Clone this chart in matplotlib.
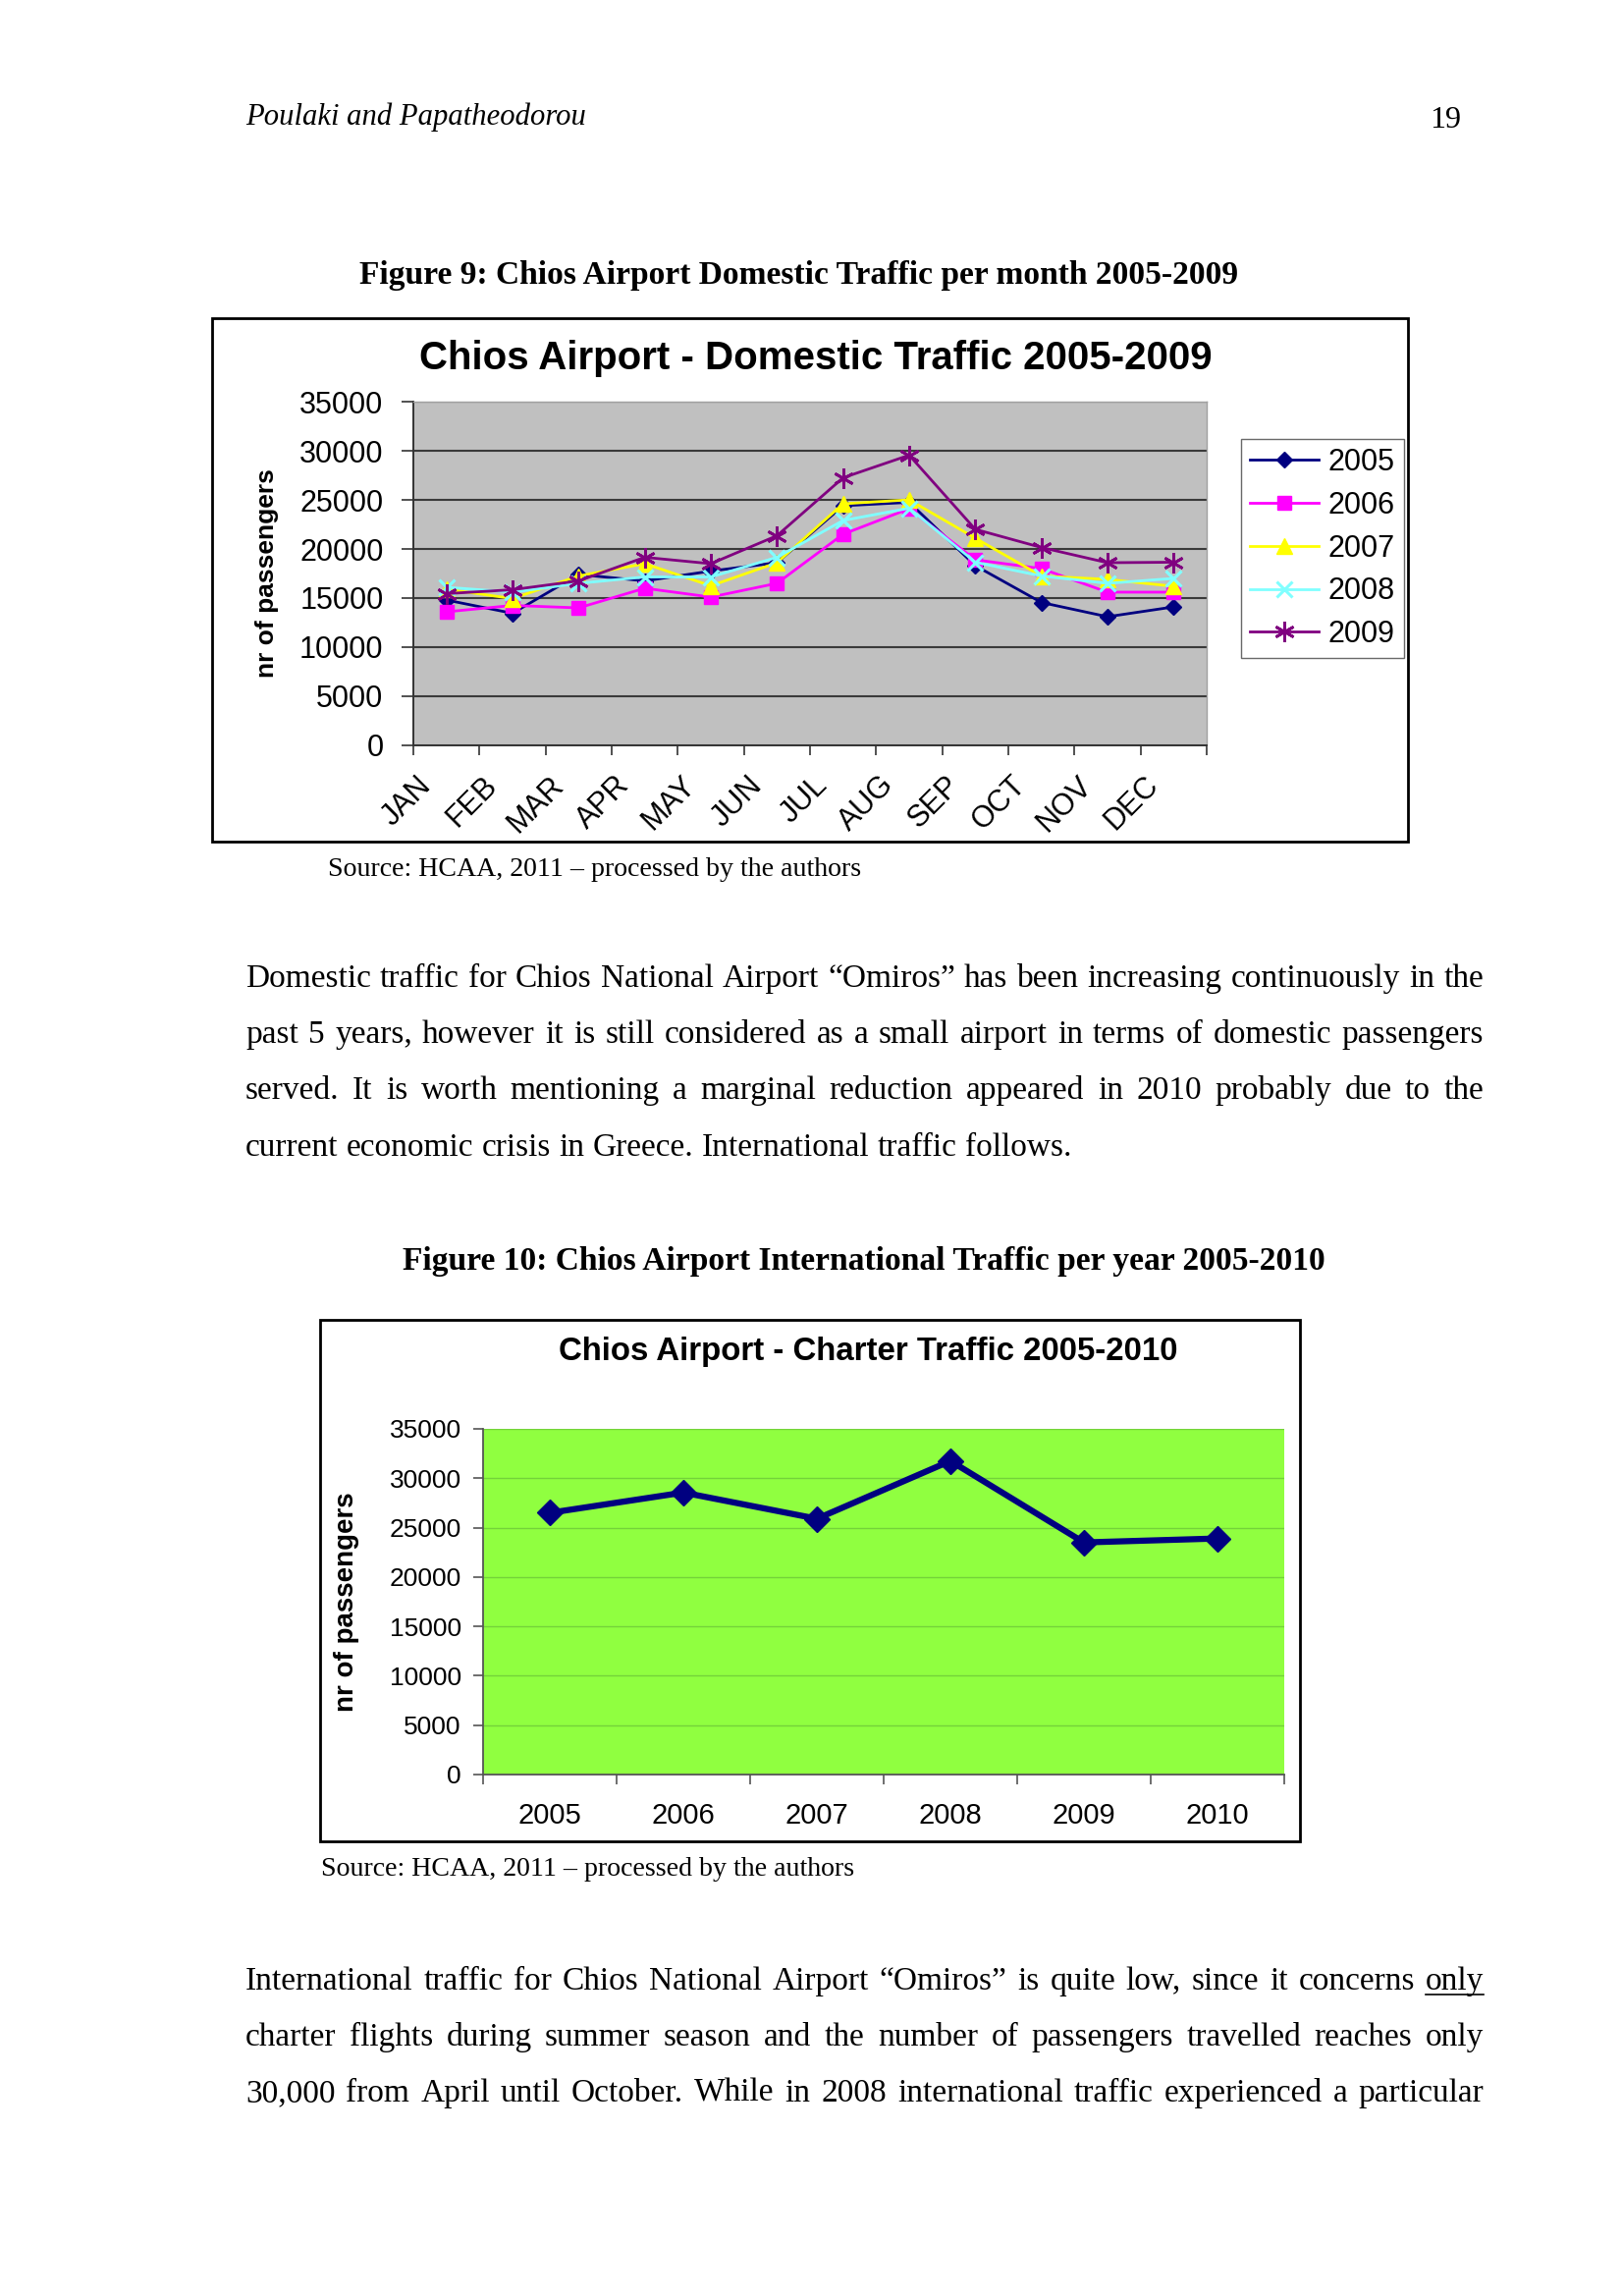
import matplotlib
matplotlib.use('Agg')
import matplotlib.pyplot as plt
import matplotlib.transforms as mtransforms
from matplotlib.patches import Rectangle
import numpy as np

W, H, DPI = 1652, 2338, 100

# ---------------- data ----------------
months = ['JAN', 'FEB', 'MAR', 'APR', 'MAY', 'JUN', 'JUL', 'AUG', 'SEP', 'OCT', 'NOV', 'DEC']
dom_2005 = [14800, 13450, 17400, 16750, 17750, 18600, 24400, 24750, 18300, 14550, 13100, 14100]
dom_2006 = [13600, 14250, 14000, 16000, 15100, 16500, 21500, 24100, 18900, 18000, 15600, 15600]
dom_2007 = [15900, 14950, 17250, 18500, 16250, 18600, 24600, 25000, 21100, 17250, 16900, 16200]
dom_2008 = [16100, 15600, 16500, 17150, 17150, 19150, 22900, 24150, 18650, 17250, 16500, 17000]
dom_2009 = [15450, 15850, 16750, 19150, 18500, 21350, 27250, 29550, 22000, 20150, 18600, 18650]
dom_labels = ['2005', '2006', '2007', '2008', '2009']

charter_years = ['2005', '2006', '2007', '2008', '2009', '2010']
charter_values = [26500, 28550, 25900, 31750, 23500, 23900]

ytick_vals = [0, 5000, 10000, 15000, 20000, 25000, 30000, 35000]

para1 = [
    "Domestic traffic for Chios National Airport \u201cOmiros\u201d has been increasing continuously in the",
    "past 5 years, however it is still considered as a small airport in terms of domestic passengers",
    "served. It is worth mentioning a marginal reduction appeared in 2010 probably due to the",
    "current economic crisis in Greece. International traffic follows.",
]
para2 = [
    "International traffic for Chios National Airport \u201cOmiros\u201d is quite low, since it concerns only",
    "charter flights during summer season and the number of passengers travelled reaches only",
    "30,000 from April until October. While in 2008 international traffic experienced a particular",
]

# ---------------- helpers ----------------
fig = plt.figure(figsize=(W / DPI, H / DPI), dpi=DPI)
fig.patch.set_facecolor('white')
renderer = fig.canvas.get_renderer()
SERIF = 'Liberation Serif'
SANS = 'Liberation Sans'


def fx(x):
    return x / W


def fy(y):
    return 1 - y / H


def rect(x0, y0, x1, y1):
    return [x0 / W, 1 - y1 / H, (x1 - x0) / W, (y1 - y0) / H]


def twidth(s, **kw):
    t = fig.text(0, 0, s, **kw)
    w = t.get_window_extent(renderer).width
    t.remove()
    return w


def fit(s, target, base=20, **kw):
    return base * target / twidth(s, fontsize=base, **kw)


def para_line(line, x0, x1, ybase, size, justify=True, underline=()):
    words = line.split(' ')
    widths = [twidth(w, fontsize=size, family=SERIF) for w in words]
    if justify and len(words) > 1:
        gap = (x1 - x0 - sum(widths)) / (len(words) - 1)
    else:
        gap = twidth('a a', fontsize=size, family=SERIF) - twidth('aa', fontsize=size, family=SERIF)
    x = x0
    for w, wd in zip(words, widths):
        fig.text(fx(x), fy(ybase), w, fontsize=size, family=SERIF, va='baseline', ha='left')
        if w in underline:
            fig.add_artist(plt.Line2D([fx(x), fx(x + wd)], [fy(ybase + 5), fy(ybase + 5)],
                                      transform=fig.transFigure, color='black', lw=1.2))
        x += wd + gap


# ---------------- page text ----------------
s_head = fit('Poulaki and Papatheodorou', 346, family=SERIF, style='italic')
fig.text(fx(250), fy(119), 'Poulaki and Papatheodorou', fontsize=s_head, family=SERIF,
         style='italic', va='center', ha='left')
fig.text(fx(1488), fy(123), '19', fontsize=s_head * 1.05, family=SERIF, va='center', ha='right')

cap9 = 'Figure 9: Chios Airport Domestic Traffic per month 2005-2009'
s_cap = fit(cap9, 893, family=SERIF, weight='bold')
fig.text(fx(814), fy(280), cap9, fontsize=s_cap, family=SERIF, weight='bold', va='center', ha='center')
cap10 = 'Figure 10: Chios Airport International Traffic per year 2005-2010'
fig.text(fx(880), fy(1284), cap10, fontsize=s_cap, family=SERIF, weight='bold', va='center', ha='center')

src = 'Source: HCAA, 2011 \u2013 processed by the authors'
s_src = fit(src, 541, family=SERIF)
fig.text(fx(334), fy(886), src, fontsize=s_src, family=SERIF, va='center', ha='left')
fig.text(fx(327), fy(1903), src, fontsize=s_src, family=SERIF, va='center', ha='left')

s_body = fit(para1[-1], 841, family=SERIF)
for i, (ln, yb) in enumerate(zip(para1, [1005, 1062, 1119, 1177])):
    para_line(ln, 250, 1511, yb, s_body, justify=(i < len(para1) - 1))
for ln, yb in zip(para2, [2026, 2083, 2140]):
    para_line(ln, 250, 1511, yb, s_body, justify=True, underline=('only',) if ln.endswith('concerns only') else ())

# chart frames
fig.add_artist(Rectangle((fx(216), fy(857)), (1434 - 216) / W, (857 - 324) / H, transform=fig.transFigure,
                         fill=False, ec='black', lw=2.0))
fig.add_artist(Rectangle((fx(326), fy(1875)), (1324 - 326) / W, (1875 - 1344) / H, transform=fig.transFigure,
                         fill=False, ec='black', lw=2.0))

# ---------------- chart 1 ----------------
ax1 = fig.add_axes(rect(421, 409, 1229, 759))
ax1.set_facecolor('#C0C0C0')
xm = np.arange(len(months))
styles = [
    (dom_2005, '#000080', 'D', 8.5, dict()),
    (dom_2006, '#FF00FF', 's', 10, dict()),
    (dom_2007, '#FFFF00', '^', 12, dict()),
    (dom_2008, '#80FFFF', 'x', 12, dict(mew=2.2)),
    (dom_2009, '#800080', (6, 2, 0), 15, dict(mew=2.0)),
]
handles = []
for (vals, col, mk, ms, extra), lab in zip(styles, dom_labels):
    h, = ax1.plot(xm, vals, color=col, lw=2.0, marker=mk, ms=ms, mfc=col, mec=col, label=lab, **extra)
    handles.append(h)
ax1.set_xlim(-0.5, len(months) - 0.5)
ax1.set_ylim(0, 35000)
ax1.set_yticks(ytick_vals)
ax1.set_yticklabels([str(v) for v in ytick_vals], fontsize=22, family=SANS)
ax1.yaxis.grid(True, color='#3a3a3a', lw=1.5)
ax1.set_axisbelow(True)
ax1.set_xticks(np.arange(-0.5, len(months), 1))
ax1.set_xticklabels([])
ax1.set_xticks(xm, minor=True)
ax1.set_xticklabels(months, minor=True, rotation=45, ha='right', va='center',
                    rotation_mode='anchor', fontsize=22, family=SANS)
ax1.tick_params(axis='x', which='minor', length=0, pad=26)
ax1.tick_params(axis='x', which='major', length=7, width=1.2, color='#333333')
ax1.tick_params(axis='y', length=9, width=1.2, color='#333333', pad=13)
off = mtransforms.ScaledTranslation(-0.20, 0, fig.dpi_scale_trans)
for lbl in ax1.get_xticklabels(minor=True):
    lbl.set_transform(lbl.get_transform() + off)
for sp in ['left', 'bottom']:
    ax1.spines[sp].set_color('#333333')
    ax1.spines[sp].set_linewidth(1.4)
for sp in ['top', 'right']:
    ax1.spines[sp].set_color('#A0A0A0')
    ax1.spines[sp].set_linewidth(1.0)
ax1.set_ylabel('nr of passengers', fontsize=19, family=SANS, weight='bold')
ax1.yaxis.set_label_coords((284 - 421) / (1229 - 421), 0.5)

s_t1 = fit('Chios Airport - Domestic Traffic 2005-2009', 808, family=SANS, weight='bold')
fig.text(fx(831), fy(365), 'Chios Airport - Domestic Traffic 2005-2009', fontsize=s_t1,
         family=SANS, weight='bold', ha='center', va='center')

leg = fig.legend(handles, dom_labels, loc='upper left', bbox_to_anchor=(fx(1264), fy(447)),
                 borderaxespad=0, frameon=True, fancybox=False, edgecolor='#444444',
                 prop=dict(family=SANS, size=22), handlelength=2.3, handletextpad=0.3,
                 labelspacing=0.45, borderpad=0.3)
leg.get_frame().set_linewidth(1.0)

# ---------------- chart 2 ----------------
ax2 = fig.add_axes(rect(492, 1455, 1308, 1807))
ax2.set_facecolor('#90FF40')
xc = np.arange(len(charter_years))
ax2.plot(xc, charter_values, color='#000080', lw=4.5, marker='D', ms=13, mfc='#000080', mec='#000080')
ax2.set_xlim(-0.5, len(charter_years) - 0.5)
ax2.set_ylim(0, 35000)
ax2.set_yticks(ytick_vals)
ax2.set_yticklabels([str(v) for v in ytick_vals], fontsize=19, family=SANS)
ax2.yaxis.grid(True, color='#74D23A', lw=1.0)
ax2.set_axisbelow(True)
ax2.set_xticks(np.arange(-0.5, len(charter_years), 1))
ax2.set_xticklabels([])
ax2.set_xticks(xc, minor=True)
ax2.set_xticklabels(charter_years, minor=True, fontsize=21, family=SANS)
ax2.tick_params(axis='x', which='minor', length=0, pad=20)
ax2.tick_params(axis='x', which='major', length=7, width=1.2, color='#555555')
ax2.tick_params(axis='y', length=7, width=1.2, color='#555555', pad=9)
for sp in ['left', 'bottom']:
    ax2.spines[sp].set_color('#555555')
    ax2.spines[sp].set_linewidth(1.3)
for sp in ['top', 'right']:
    ax2.spines[sp].set_visible(False)
ax2.set_ylabel('nr of passengers', fontsize=20, family=SANS, weight='bold')
ax2.yaxis.set_label_coords((366 - 492) / (1308 - 492), 0.5)

s_t2 = fit('Chios Airport - Charter Traffic 2005-2010', 632, family=SANS, weight='bold')
fig.text(fx(884), fy(1376), 'Chios Airport - Charter Traffic 2005-2010', fontsize=s_t2,
         family=SANS, weight='bold', ha='center', va='center')

fig.savefig('out.png', dpi=DPI, facecolor='white')
